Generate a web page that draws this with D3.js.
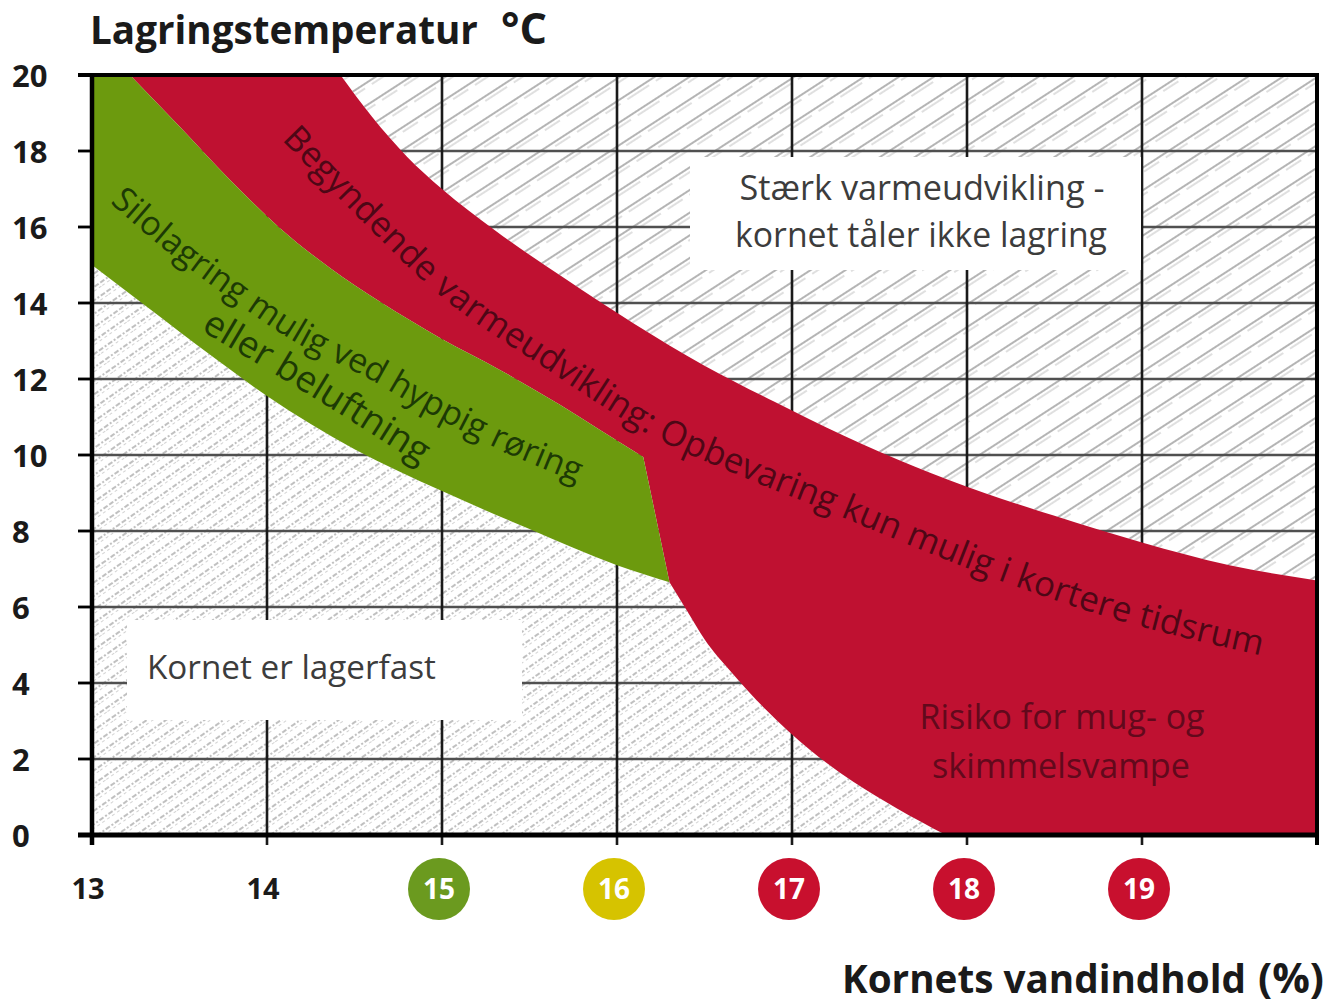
<!DOCTYPE html>
<html><head><meta charset="utf-8">
<script src="https://cdn.jsdelivr.net/npm/d3@7"></script>
<style>body{margin:0;background:#fff}svg{display:block}</style>
</head><body>
<script>
// ---------- data ----------
const xTicks = [13, 14, 15, 16, 17, 18, 19];
const yTicks = [0, 2, 4, 6, 8, 10, 12, 14, 16, 18, 20];
const badgeTicks = [15, 16, 17, 18, 19];
const badgeColors = ["#6b9a1f", "#d6c300", "#c8102e", "#c8102e", "#c8102e"];
const plainTicks = [13, 14];

// upper edge of red band (water %, °C)
const redUpper = [[14.42,20],[14.6,18.9],[14.8,17.85],[15.0,17.0],[15.3,15.92],[15.7,14.65],[16.1,13.45],[16.5,12.35],[16.9,11.4],[17.3,10.5],[17.7,9.7],[18.1,9.0],[18.5,8.4],[19.0,7.7],[19.5,7.1],[20,6.7]];
// boundary between red band and green band
const redGreen = [[13.217,20],[13.503,18.63],[13.789,17.24],[14.074,15.97],[14.36,14.92],[14.646,14.03],[14.989,13.08],[15.331,12.24],[15.674,11.32],[15.903,10.66],[16.15,9.95]];
// lower edge of green band
const greenLower = [[13,15],[13.3,13.95],[13.7,12.55],[14.0,11.55],[14.5,10.15],[15.0,9.05],[15.5,8.05],[16.0,7.1],[16.3,6.65]];
// left edge of mould-risk red area
const riskEdge = [[16.3,6.65],[16.4,5.9],[16.5,5.15],[16.65,4.3],[16.85,3.3],[17.1,2.25],[17.35,1.4],[17.6,0.7],[17.88,0]];

// text guide lines
const redTextLine = [[14.14,18.55],[14.59,16.45],[15.02,14.55],[15.62,12.63],[16.25,10.79],[16.76,9.74],[17.22,8.89],[17.67,8.03],[18.1,7.24],[18.76,6.18],[19.70,5.08]];
const greenTextLine1 = [[13.15,16.9],[13.5,15.53],[13.85,14.34],[14.19,13.29],[14.59,12.37],[14.99,11.32],[15.39,10.39],[15.80,9.6]];
const greenTextLine2 = [[13.66,13.6],[14.30,11.84],[14.92,10.05]];

const redText = "Begyndende varmeudvikling: Opbevaring kun mulig i kortere tidsrum";
const greenText1 = "Silolagring mulig ved hyppig røring";
const greenText2 = "eller beluftning";
const boxText1 = ["Stærk varmeudvikling -", "kornet tåler ikke lagring"];
const boxText2 = "Kornet er lagerfast";
const riskText = ["Risiko for mug- og", "skimmelsvampe"];
const yTitle = "Lagringstemperatur";
const yUnit = "°C";
const xTitle = "Kornets vandindhold";
const xUnit = "(%)";

// ---------- setup ----------
const W = 1333, H = 1003;
const FONT = "'Open Sans', 'Noto Sans', sans-serif";
const RED = "#bf1131", GREEN = "#6c9a0e";
const svg = d3.select("body").append("svg").attr("width", W).attr("height", H)
  .style("font-family", FONT);
const x = d3.scaleLinear().domain([13, 20]).range([92, 1317]);
const y = d3.scaleLinear().domain([0, 20]).range([835, 75]);

const curveGen = d3.line().x(d => x(d[0])).y(d => y(d[1])).curve(d3.curveMonotoneX);
const linGen = d3.line().x(d => x(d[0])).y(d => y(d[1]));
const seg = (pts, first, curved = true) => {
  const s = (curved ? curveGen : linGen)(pts);
  return first ? s : s.replace(/^M/, "L");
};
const rev = a => a.slice().reverse();

const defs = svg.append("defs");
// upper hatch: crisp diagonal lines, in loose pairs
const pU = defs.append("pattern").attr("id", "hatchU").attr("patternUnits", "userSpaceOnUse")
  .attr("width", 60).attr("height", 19).attr("patternTransform", "rotate(-33)");
pU.append("line").attr("x1", 0).attr("x2", 60).attr("y1", 3).attr("y2", 3).attr("stroke", "#6a6a6a").attr("stroke-width", 1);
pU.append("line").attr("x1", 0).attr("x2", 60).attr("y1", 7).attr("y2", 7).attr("stroke", "#b0b0b0").attr("stroke-width", 0.8).attr("stroke-dasharray", "18,8");
// lower hatch: light, dense, dotted
const pL = defs.append("pattern").attr("id", "hatchL").attr("patternUnits", "userSpaceOnUse")
  .attr("width", 40).attr("height", 11).attr("patternTransform", "rotate(-35)");
pL.append("line").attr("x1", 0).attr("x2", 40).attr("y1", 3).attr("y2", 3).attr("stroke", "#ababab").attr("stroke-width", 1.5).attr("stroke-dasharray", "5,2,2,2");
pL.append("line").attr("x1", 0).attr("x2", 40).attr("y1", 6.5).attr("y2", 6.5).attr("stroke", "#d2d2d2").attr("stroke-width", 1).attr("stroke-dasharray", "3,3");

// ---------- hatched regions ----------
const upperPath = seg(redUpper, true) + seg([[20, 6.7], [20, 20]], false, false) + "Z";
svg.append("path").attr("d", upperPath).attr("fill", "url(#hatchU)");
const lowerPath = seg([[13, 0], [13, 15]], true, false) + seg(greenLower, false) + seg(riskEdge, false) + "Z";
svg.append("path").attr("d", lowerPath).attr("fill", "url(#hatchL)");

// ---------- grid ----------
const g = svg.append("g");
g.selectAll("line.h").data(yTicks.filter(v => v > 0 && v < 20)).join("line")
  .attr("x1", 78).attr("x2", x(20)).attr("y1", d => y(d)).attr("y2", d => y(d))
  .attr("stroke", "#505050").attr("stroke-width", 2.6);
g.selectAll("line.v").data(xTicks.filter(v => v > 13)).join("line")
  .attr("x1", d => x(d)).attr("x2", d => x(d)).attr("y1", y(20)).attr("y2", y(0) + 10)
  .attr("stroke", "#1a1a1a").attr("stroke-width", 2.6);

// ---------- coloured bands ----------
const redPath = seg(redUpper, true) + seg([[20, 6.7], [20, 0], [17.88, 0]], false, false)
  + seg(rev(riskEdge), false) + seg([[16.3, 6.65], [16.15, 9.95]], false, false)
  + seg(rev(redGreen), false) + "Z";
svg.append("path").attr("d", redPath).attr("fill", RED);
const greenPath = seg([[13, 20], [13.217, 20]], true, false) + seg(redGreen, false)
  + seg([[16.15, 9.95], [16.3, 6.65]], false, false) + seg(rev(greenLower), false) + "Z";
svg.append("path").attr("d", greenPath).attr("fill", GREEN);

// ---------- white label boxes ----------
svg.append("rect").attr("x", 690).attr("y", 157).attr("width", 451).attr("height", 113).attr("fill", "#fff");
svg.append("rect").attr("x", 127).attr("y", 620).attr("width", 395).attr("height", 100).attr("fill", "#fff");

function fit(sel, target) {
  const n = sel.node();
  const fs = parseFloat(sel.attr("font-size"));
  const w = n.getComputedTextLength();
  if (w > 0) sel.attr("font-size", (fs * target / w).toFixed(2));
  return sel;
}

const t1 = svg.append("text").attr("x", 922).attr("y", 200).attr("text-anchor", "middle")
  .attr("font-size", 29).attr("fill", "#3c3c3c").text(boxText1[0]);
fit(t1, 365);
const t2 = svg.append("text").attr("x", 921).attr("y", 247).attr("text-anchor", "middle")
  .attr("font-size", 29).attr("fill", "#3c3c3c").text(boxText1[1]);
fit(t2, 372);
const t3 = svg.append("text").attr("x", 147).attr("y", 679)
  .attr("font-size", 29).attr("fill", "#3c3c3c").text(boxText2);
fit(t3, 289);

// risk label
const r1 = svg.append("text").attr("x", 1062).attr("y", 729).attr("text-anchor", "middle")
  .attr("font-size", 29).attr("fill", "#62091c").text(riskText[0]);
fit(r1, 285);
const r2 = svg.append("text").attr("x", 1061).attr("y", 778).attr("text-anchor", "middle")
  .attr("font-size", 29).attr("fill", "#62091c").text(riskText[1]);
fit(r2, 258);

// ---------- curved labels ----------
function curvedText(id, pts, str, color, fs) {
  const p = defs.append("path").attr("id", id).attr("d", curveGen(pts));
  const L = p.node().getTotalLength();
  const t = svg.append("text").attr("font-size", fs).attr("fill", color).attr("dominant-baseline", "central");
  t.append("textPath").attr("href", "#" + id).text(str);
  const w = t.node().getComputedTextLength();
  if (w > 0) t.attr("font-size", (fs * L / w).toFixed(2));
}
curvedText("pRed", redTextLine, redText, "#4e0716", 31);
curvedText("pG1", greenTextLine1, greenText1, "#1d3a05", 30);
curvedText("pG2", greenTextLine2, greenText2, "#1d3a05", 30);

// ---------- frame ----------
svg.append("line").attr("x1", 78).attr("x2", x(20) + 2).attr("y1", y(20)).attr("y2", y(20)).attr("stroke", "#000").attr("stroke-width", 4);
svg.append("line").attr("x1", x(20)).attr("x2", x(20)).attr("y1", y(20)).attr("y2", y(0) + 10).attr("stroke", "#000").attr("stroke-width", 4);
svg.append("line").attr("x1", x(13)).attr("x2", x(13)).attr("y1", y(20) - 2).attr("y2", y(0) + 10).attr("stroke", "#000").attr("stroke-width", 4.5);
svg.append("line").attr("x1", 78).attr("x2", x(20) + 2).attr("y1", y(0)).attr("y2", y(0)).attr("stroke", "#000").attr("stroke-width", 5);
// left ticks
svg.selectAll("line.lt").data(yTicks).join("line")
  .attr("x1", 78).attr("x2", x(13)).attr("y1", d => y(d)).attr("y2", d => y(d))
  .attr("stroke", "#000").attr("stroke-width", 2.6);

// ---------- axis labels ----------
svg.selectAll("text.yl").data(yTicks).join("text")
  .attr("x", 12).attr("y", d => y(d) + 12).attr("font-size", 31).attr("font-weight", 700)
  .attr("fill", "#1a1a1a").text(d => d);
svg.selectAll("text.xl").data(plainTicks).join("text")
  .attr("x", d => x(d) - 4).attr("y", 899).attr("text-anchor", "middle")
  .attr("font-size", 29).attr("font-weight", 700).attr("fill", "#1a1a1a").text(d => d);
const badges = svg.selectAll("g.badge").data(badgeTicks).join("g")
  .attr("transform", d => `translate(${x(d) - 3},889)`);
badges.append("circle").attr("r", 31).attr("fill", (d, i) => badgeColors[i]);
badges.append("text").attr("y", 10).attr("text-anchor", "middle").attr("font-size", 28)
  .attr("font-weight", 700).attr("fill", "#fff").text(d => d);

// titles
const yt = svg.append("text").attr("x", 90).attr("y", 44).attr("font-size", 34).attr("font-weight", 700)
  .attr("fill", "#1a1a1a").text(yTitle);
fit(yt, 388);
const yu = svg.append("text").attr("x", 501).attr("y", 44).attr("font-size", 34).attr("font-weight", 700)
  .attr("fill", "#1a1a1a").text(yUnit);
fit(yu, 46);
const xt = svg.append("text").attr("x", 842).attr("y", 993).attr("font-size", 34).attr("font-weight", 700)
  .attr("fill", "#1a1a1a").text(xTitle);
fit(xt, 404);
const xu = svg.append("text").attr("x", 1258).attr("y", 993).attr("font-size", 34).attr("font-weight", 700)
  .attr("fill", "#1a1a1a").text(xUnit);
fit(xu, 66);
</script>
</body></html>
